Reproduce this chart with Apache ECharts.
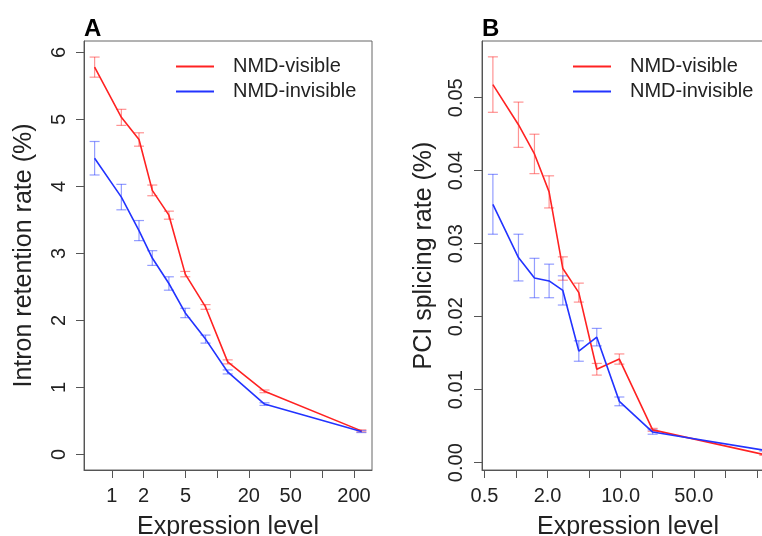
<!DOCTYPE html>
<html>
<head>
<meta charset="utf-8">
<script src="https://cdn.jsdelivr.net/npm/echarts@6/dist/echarts.min.js"></script>
<style>
  html, body { margin: 0; padding: 0; background: #fff; }
  #chart { width: 762px; height: 536px; }
</style>
</head>
<body>
<div id="chart"></div>
<script>
// ---------- Panel A: intron retention ----------
const exprA      = [0.685, 1.23, 1.81, 2.42, 3.48, 4.98, 7.76, 12.6, 28.2, 235];
const visibleA   = [5.78, 5.03, 4.70, 3.94, 3.57, 2.69, 2.20, 1.38, 0.94, 0.35];
const visibleAse = [0.15, 0.12, 0.10, 0.08, 0.06, 0.04, 0.035, 0.03, 0.02, 0.015];
const invisA     = [4.42, 3.84, 3.34, 2.93, 2.55, 2.11, 1.72, 1.23, 0.75, 0.34];
const invisAse   = [0.25, 0.19, 0.15, 0.11, 0.10, 0.07, 0.06, 0.03, 0.02, 0.015];

// ---------- Panel B: PCI splicing ----------
const exprB      = [0.601, 1.055, 1.50, 2.07, 2.80, 3.98, 5.91, 9.71, 20.2, 236];
const visibleB   = [0.0518, 0.0463, 0.0423, 0.0371, 0.0266, 0.0233, 0.0128, 0.0142, 0.0045, 0.0011];
const visibleBse = [0.0038, 0.0031, 0.0027, 0.0022, 0.0016, 0.0013, 0.0008, 0.0007, 0.0002, 0.0001];
const invisB     = [0.0354, 0.0281, 0.0253, 0.0249, 0.0236, 0.0153, 0.0172, 0.0084, 0.0042, 0.0017];
const invisBse   = [0.0041, 0.0032, 0.0027, 0.0023, 0.0020, 0.0014, 0.0012, 0.0006, 0.0003, 0.0001];

// ---------- tick values ----------
const xTicksA  = [1, 2, 5, 10, 20, 50, 100, 200];
const xLabelsA = [1, 2, 5, 20, 50, 200];
const yTicksA  = [0, 1, 2, 3, 4, 5, 6];
const xTicksB  = [0.5, 1, 2, 5, 10, 20, 50, 100, 200];
const xLabelsB = [0.5, 2, 10, 50];
const yTicksB  = [0, 0.01, 0.02, 0.03, 0.04, 0.05];

const seriesNames = ['NMD-visible', 'NMD-invisible'];
const RED = '#ff2222', BLUE = '#2233ff';
const RED_EB = 'rgba(255,40,40,0.5)', BLUE_EB = 'rgba(40,60,255,0.5)';
const FONT = 'Liberation Sans, Arial, Helvetica, sans-serif';

function pairs(xs, ys) { return xs.map((x, i) => [x, ys[i]]); }
function bars(xs, ys, se) { return xs.map((x, i) => [x, ys[i] - se[i], ys[i] + se[i]]); }

function errorSeries(name, xi, data, color) {
  return {
    name: name, type: 'custom', xAxisIndex: xi, yAxisIndex: xi, z: 2,
    data: data, silent: true,
    encode: { x: 0, y: [1, 2] },
    renderItem: function (params, api) {
      const lo = api.coord([api.value(0), api.value(1)]);
      const hi = api.coord([api.value(0), api.value(2)]);
      const w = 5;
      const st = { stroke: color, lineWidth: 1.2 };
      return { type: 'group', children: [
        { type: 'line', shape: { x1: lo[0], y1: lo[1], x2: hi[0], y2: hi[1] }, style: st },
        { type: 'line', shape: { x1: lo[0] - w, y1: lo[1], x2: lo[0] + w, y2: lo[1] }, style: st },
        { type: 'line', shape: { x1: hi[0] - w, y1: hi[1], x2: hi[0] + w, y2: hi[1] }, style: st }
      ]};
    }
  };
}

function lineSeries(name, xi, data, color) {
  return {
    name: name, type: 'line', xAxisIndex: xi, yAxisIndex: xi, z: 3,
    data: data, symbol: 'none', color: color,
    lineStyle: { color: color, width: 1.6 }
  };
}

const axisCol = '#555';
const labelCol = '#222';

function xAxis(gi, min, max, ticks, labels, fmt) {
  return {
    type: 'log', gridIndex: gi, min: min, max: max, logBase: 10,
    name: 'Expression level', nameLocation: 'middle', nameGap: 45,
    nameTextStyle: { fontFamily: FONT, fontSize: 25, color: labelCol },
    axisLine: { show: true, onZero: false, lineStyle: { color: axisCol, width: 1 } },
    axisTick: { show: true, length: 8, customValues: ticks, lineStyle: { color: axisCol } },
    axisLabel: { show: true, customValues: labels, formatter: fmt, margin: 16,
                 fontFamily: FONT, fontSize: 20, color: labelCol },
    splitLine: { show: false }, minorTick: { show: false }, minorSplitLine: { show: false }
  };
}

function yAxis(gi, min, max, ticks, fmt, title, gap, margin) {
  return {
    type: 'value', gridIndex: gi, min: min, max: max,
    name: title, nameLocation: 'middle', nameGap: gap, nameRotate: 90,
    nameTextStyle: { fontFamily: FONT, fontSize: 25, color: labelCol },
    axisLine: { show: true, onZero: false, lineStyle: { color: axisCol, width: 1 } },
    axisTick: { show: true, length: 8, customValues: ticks, lineStyle: { color: axisCol } },
    axisLabel: { show: true, customValues: ticks, formatter: fmt, rotate: 90, margin: margin,
                 fontFamily: FONT, fontSize: 20, color: labelCol },
    splitLine: { show: false }
  };
}

function legend(left) {
  return {
    data: seriesNames, orient: 'vertical', left: left, top: 55,
    icon: 'rect', itemWidth: 38, itemHeight: 2, itemGap: 2, padding: 0,
    selectedMode: false,
    textStyle: { fontFamily: FONT, fontSize: 20, color: labelCol, lineHeight: 23,
                 padding: [0, 0, 0, 14] }
  };
}

function grid(left, width) {
  return { left: left, top: 41, width: width, height: 429, show: true,
           borderColor: '#666', borderWidth: 1, containLabel: false,
           outerBoundsMode: 'none' };
}

const chart = echarts.init(document.getElementById('chart'), null, { renderer: 'canvas' });
chart.setOption({
  animation: false,
  backgroundColor: '#fff',
  title: [
    { text: 'A', left: 84, top: 17, padding: 0,
      textStyle: { fontFamily: FONT, fontSize: 24, fontWeight: 'bold', color: '#000' } },
    { text: 'B', left: 482, top: 17, padding: 0,
      textStyle: { fontFamily: FONT, fontSize: 24, fontWeight: 'bold', color: '#000' } }
  ],
  legend: [legend(176), legend(573)],
  grid: [grid(84, 288), grid(482, 292)],
  xAxis: [
    xAxis(0, 0.543, 296.5, xTicksA, xLabelsA, v => String(v)),
    xAxis(1, 0.473, 291.7, xTicksB, xLabelsB, v => Number(v).toFixed(1))
  ],
  yAxis: [
    yAxis(0, -0.234, 6.17, yTicksA, v => String(v), 'Intron retention rate (%)', 47, 15),
    yAxis(1, -0.001, 0.05777, yTicksB, v => Number(v).toFixed(2), 'PCI splicing rate (%)', 45, 16)
  ],
  series: [
    errorSeries('NMD-visible SE', 0, bars(exprA, visibleA, visibleAse), RED_EB),
    errorSeries('NMD-invisible SE', 0, bars(exprA, invisA, invisAse), BLUE_EB),
    lineSeries(seriesNames[0], 0, pairs(exprA, visibleA), RED),
    lineSeries(seriesNames[1], 0, pairs(exprA, invisA), BLUE),
    errorSeries('NMD-visible SE', 1, bars(exprB, visibleB, visibleBse), RED_EB),
    errorSeries('NMD-invisible SE', 1, bars(exprB, invisB, invisBse), BLUE_EB),
    lineSeries(seriesNames[0], 1, pairs(exprB, visibleB), RED),
    lineSeries(seriesNames[1], 1, pairs(exprB, invisB), BLUE)
  ]
});
</script>
</body>
</html>
